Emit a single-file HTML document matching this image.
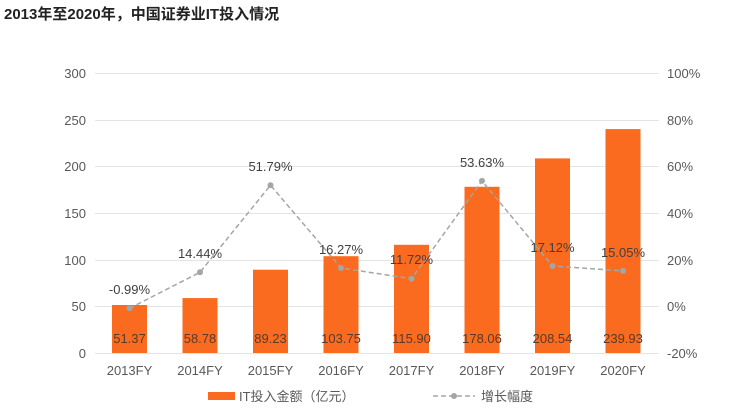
<!DOCTYPE html><html><head><meta charset="utf-8"><style>body{margin:0;background:#fff}svg{display:block}text{font-family:"Liberation Sans","Noto Sans CJK SC",sans-serif}</style></head><body>
<svg width="743" height="415" viewBox="0 0 743 415">
<text x="4" y="19" font-size="15" font-weight="bold" fill="#222">2013年至2020年，中国证券业IT投入情况</text>
<g stroke="#e4e4e4" stroke-width="1">
<line x1="95" x2="659" y1="73.5" y2="73.5"/><line x1="95" x2="659" y1="120.5" y2="120.5"/><line x1="95" x2="659" y1="166.5" y2="166.5"/><line x1="95" x2="659" y1="213.5" y2="213.5"/><line x1="95" x2="659" y1="260.5" y2="260.5"/><line x1="95" x2="659" y1="306.5" y2="306.5"/><line x1="95" x2="659" y1="353.5" y2="353.5"/>
</g>
<g font-size="13" fill="#595959" text-anchor="end">
<text x="86" y="78">300</text><text x="86" y="125">250</text><text x="86" y="171">200</text><text x="86" y="218">150</text><text x="86" y="265">100</text><text x="86" y="311">50</text><text x="86" y="358">0</text>
</g>
<g font-size="13" fill="#595959" text-anchor="start">
<text x="667" y="78">100%</text><text x="667" y="125">80%</text><text x="667" y="171">60%</text><text x="667" y="218">40%</text><text x="667" y="265">20%</text><text x="667" y="311">0%</text><text x="667" y="358">-20%</text>
</g>
<g fill="#fa6a1f">
<rect x="112" y="305" width="35" height="48"/>
<rect x="182.5" y="298.1" width="35" height="54.9"/>
<rect x="253" y="269.7" width="35" height="83.3"/>
<rect x="323.5" y="256.2" width="35" height="96.8"/>
<rect x="394" y="244.8" width="35" height="108.2"/>
<rect x="464.5" y="186.8" width="35" height="166.2"/>
<rect x="535" y="158.4" width="35" height="194.6"/>
<rect x="605.5" y="129.1" width="35" height="223.9"/>
</g>
<g font-size="13" fill="#5a3a2a" text-anchor="middle">
<text x="129.5" y="343">51.37</text><text x="200" y="343">58.78</text><text x="270.5" y="343">89.23</text><text x="341" y="343">103.75</text><text x="411.5" y="343">115.90</text><text x="482" y="343">178.06</text><text x="552.5" y="343">208.54</text><text x="623" y="343">239.93</text>
</g>
<polyline fill="none" stroke="#a5a5a5" stroke-width="1.5" stroke-dasharray="5,3" points="129.5,308.3 200,272.3 270.5,185.2 341,268 411.5,278.7 482,180.9 552.5,266 623,270.9"/>
<g fill="#a5a5a5">
<circle cx="129.5" cy="308.3" r="3"/><circle cx="200" cy="272.3" r="3"/><circle cx="270.5" cy="185.2" r="3"/><circle cx="341" cy="268" r="3"/><circle cx="411.5" cy="278.7" r="3"/><circle cx="482" cy="180.9" r="3"/><circle cx="552.5" cy="266" r="3"/><circle cx="623" cy="270.9" r="3"/>
</g>
<g font-size="13" fill="#404040" text-anchor="middle">
<text x="129.5" y="294">-0.99%</text><text x="200" y="258">14.44%</text><text x="270.5" y="171">51.79%</text><text x="341" y="254">16.27%</text><text x="411.5" y="264">11.72%</text><text x="482" y="167">53.63%</text><text x="552.5" y="252">17.12%</text><text x="623" y="257">15.05%</text>
</g>
<g font-size="13" fill="#595959" text-anchor="middle">
<text x="129.5" y="375">2013FY</text><text x="200" y="375">2014FY</text><text x="270.5" y="375">2015FY</text><text x="341" y="375">2016FY</text><text x="411.5" y="375">2017FY</text><text x="482" y="375">2018FY</text><text x="552.5" y="375">2019FY</text><text x="623" y="375">2020FY</text>
</g>
<rect x="208" y="392" width="27" height="8" fill="#fa6a1f"/>
<text x="239" y="401" font-size="13" fill="#595959">IT投入金额（亿元）</text>
<line x1="433" x2="475" y1="396" y2="396" stroke="#a5a5a5" stroke-width="1.5" stroke-dasharray="5,3"/>
<circle cx="454" cy="396" r="3" fill="#a5a5a5"/>
<text x="481" y="401" font-size="13" fill="#595959">增长幅度</text>
</svg></body></html>
